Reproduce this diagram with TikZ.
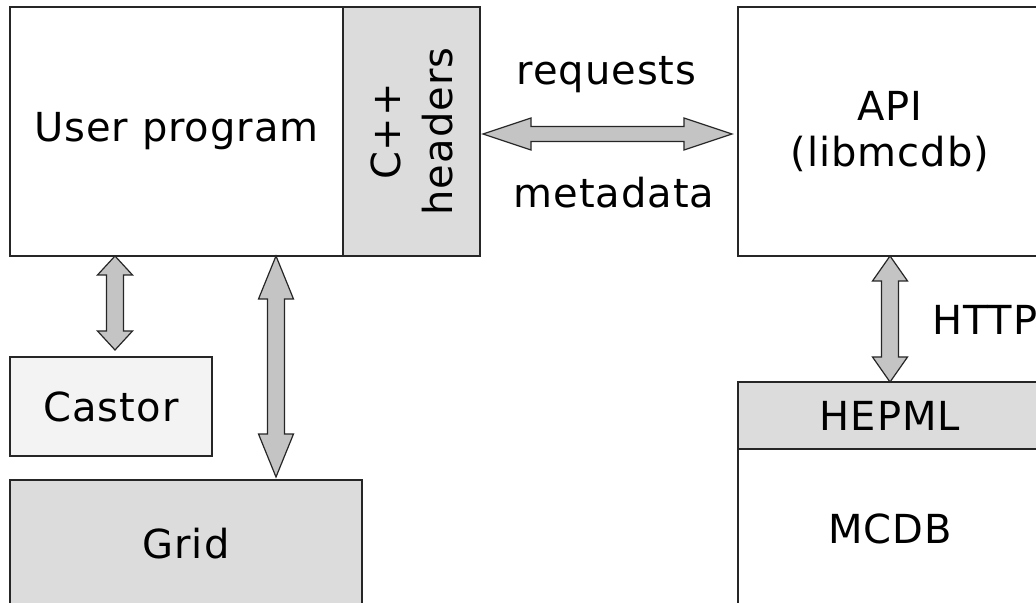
\documentclass[tikz,border=0pt]{standalone}
\usepackage{fontspec}
\setmainfont[LetterSpace=2.5]{DejaVu Sans}
\usetikzlibrary{calc}
\definecolor{boxgray}{HTML}{DCDCDC}
\definecolor{lightbox}{HTML}{F3F3F3}
\definecolor{arrowgray}{HTML}{C4C4C4}
\tikzset{
  box/.style={draw=black!85,line width=0.75pt,rectangle,inner sep=0pt,outer sep=0pt,anchor=north west,align=center},
  blockarrow/.style={draw=black!85,fill=arrowgray,line width=0.6pt},
}
\newcommand\vdarrow[3]{%
  \filldraw[blockarrow] (#1) -- ++(17.5,#3) -- ++(-9,0) -- ($(#2)+(8.5,-#3)$) -- ++(9,0)
    -- (#2) -- ++(-17.5,-#3) -- ++(9,0) -- ($(#1)+(-8.5,#3)$) -- ++(-9,0) -- cycle;}
\newcommand\hdarrow[3]{%
  \filldraw[blockarrow] (#1) -- ++(#3,-16) -- ++(0,8.5) -- ($(#2)+(-#3,-7.5)$) -- ++(0,-8.5)
    -- (#2) -- ++(-#3,16) -- ++(0,-8.5) -- ($(#1)+(#3,7.5)$) -- ++(0,8.5) -- cycle;}
\begin{document}
\begin{tikzpicture}[x=0.5pt,y=-0.5pt,font=\fontsize{20}{23}\selectfont]
  \useasboundingbox (0,0) rectangle (1036,603);
  \clip (0,0) rectangle (1036,603);

  \node[box,minimum width=166.5pt,minimum height=124.5pt] (user) at (10,7) {User program};
  \node[box,fill=boxgray,minimum width=68.5pt,minimum height=124.5pt,
        label={[rotate=90,align=center,font=\fontsize{20}{26}\selectfont]center:C++\\headers}] (headers) at (343,7) {};
  \node[box,minimum width=152pt,minimum height=124.5pt] (api) at (738,7) {API\\(libmcdb)};
  \node[box,fill=lightbox,minimum width=101pt,minimum height=49.5pt] (castor) at (10,357) {Castor};
  \node[box,fill=boxgray,minimum width=176pt,minimum height=63.5pt] (grid) at (10,480) {Grid};
  \node[box,fill=boxgray,minimum width=152pt,minimum height=33.5pt] (hepml) at (738,382) {HEPML};
  \node[box,minimum width=152pt,minimum height=79.5pt] (mcdb) at (738,449) {MCDB};

  \coordinate (c1) at ($(user.south west)+(105,0)$);
  \coordinate (c2) at ($(castor.north west)+(105,-7)$);
  \coordinate (g1) at ($(user.south west)+(266,0)$);
  \coordinate (g2) at ($(grid.north west)+(266,-3)$);
  \coordinate (r1) at ($(headers.east)+(3,2.5)$);
  \coordinate (r2) at ($(api.west)+(-6,2.5)$);

  \vdarrow{c1}{c2}{19}
  \vdarrow{g1}{g2}{43}
  \vdarrow{api.south}{hepml.north}{25}
  \hdarrow{r1}{r2}{48}

  \node[anchor=base] (req) at ($(r1)!0.5!(r2)+(-1,-49)$) {requests};
  \node[anchor=base] (meta) at ($(r1)!0.5!(r2)+(6.5,74)$) {metadata};
  \node[anchor=base west] (http) at ($(api.south)!0.5!(hepml.north)+(35,16)$) {HTTP};
\end{tikzpicture}
\end{document}
